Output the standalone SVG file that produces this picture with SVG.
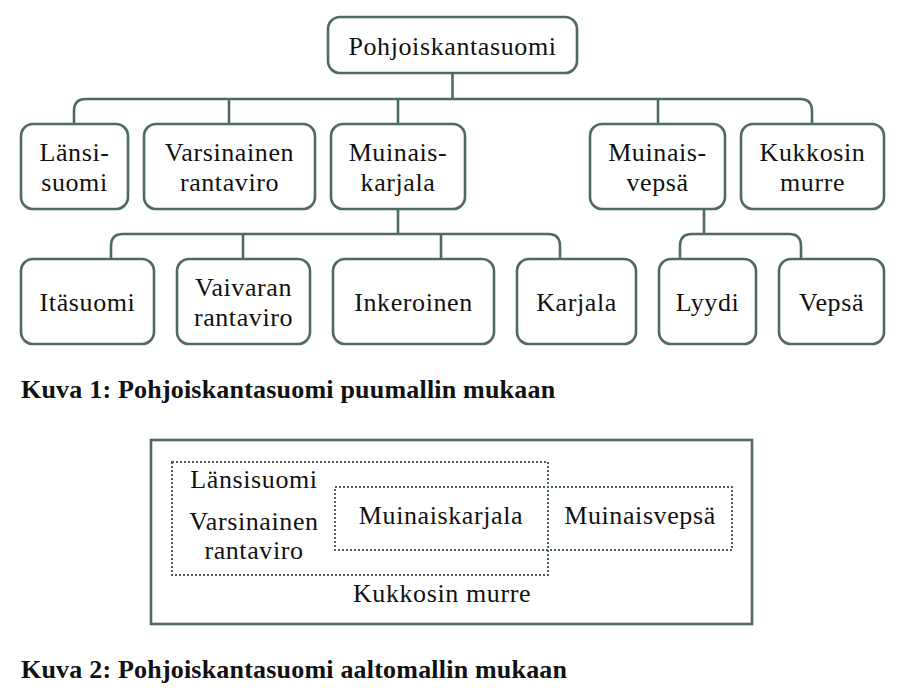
<svg xmlns="http://www.w3.org/2000/svg" width="901" height="694" viewBox="0 0 901 694">
<style>
.box{fill:#fff;stroke:#4f6a62;stroke-width:2.6}
.con{fill:none;stroke:#4f6a62;stroke-width:2.6}
.dot{fill:none;stroke:#4a625b;stroke-width:2;stroke-dasharray:2 2}
.t{font-family:"Liberation Serif","Times New Roman",serif;font-size:26px;fill:#111;text-anchor:middle;letter-spacing:0.6px}
.cap{font-family:"Liberation Serif","Times New Roman",serif;font-size:26px;font-weight:bold;fill:#111;letter-spacing:0.2px}
</style>
<rect width="901" height="694" fill="#fff"/>
<g id="connectors">
<path class="con" d="M452.5 73 V99"/>
<path class="con" d="M74 124 V111 Q74 99 86 99 H800 Q812 99 812 111 V124"/>
<path class="con" d="M229 99 V124 M398 99 V124 M658 99 V124"/>
<path class="con" d="M398 209 V234"/>
<path class="con" d="M111 259 V246 Q111 234 123 234 H548 Q560 234 560 246 V259"/>
<path class="con" d="M243 234 V259 M441 234 V259"/>
<path class="con" d="M704 209 V234"/>
<path class="con" d="M680 259 V246 Q680 234 692 234 H789 Q801 234 801 246 V259"/>
</g>
<g id="n-root"><rect class="box" x="328" y="17" width="249" height="56" rx="12"/><text class="t" x="452.5" y="55">Pohjoiskantasuomi</text></g>
<g id="n-lansisuomi"><rect class="box" x="21" y="124" width="107" height="85" rx="12"/><text class="t" x="74.5" y="161">Länsi-</text><text class="t" x="74.5" y="191">suomi</text></g>
<g id="n-varsinainen"><rect class="box" x="144" y="124" width="171" height="85" rx="12"/><text class="t" x="229.5" y="161">Varsinainen</text><text class="t" x="229.5" y="191">rantaviro</text></g>
<g id="n-muinaiskarjala"><rect class="box" x="331" y="124" width="134" height="85" rx="12"/><text class="t" x="398" y="161">Muinais-</text><text class="t" x="398" y="191">karjala</text></g>
<g id="n-muinaisvepsa"><rect class="box" x="590" y="124" width="135" height="85" rx="12"/><text class="t" x="657.5" y="161">Muinais-</text><text class="t" x="657.5" y="191">vepsä</text></g>
<g id="n-kukkosin"><rect class="box" x="741" y="124" width="143" height="85" rx="12"/><text class="t" x="812.5" y="161">Kukkosin</text><text class="t" x="812.5" y="191">murre</text></g>
<g id="n-itasuomi"><rect class="box" x="21" y="259" width="133" height="85" rx="12"/><text class="t" x="87.5" y="311">Itäsuomi</text></g>
<g id="n-vaivaran"><rect class="box" x="177" y="259" width="133" height="85" rx="12"/><text class="t" x="243.5" y="296">Vaivaran</text><text class="t" x="243.5" y="326">rantaviro</text></g>
<g id="n-inkeroinen"><rect class="box" x="333" y="259" width="161" height="85" rx="12"/><text class="t" x="413.5" y="311">Inkeroinen</text></g>
<g id="n-karjala"><rect class="box" x="517" y="259" width="119" height="85" rx="12"/><text class="t" x="576.5" y="311">Karjala</text></g>
<g id="n-lyydi"><rect class="box" x="659" y="259" width="97" height="85" rx="12"/><text class="t" x="707.5" y="311">Lyydi</text></g>
<g id="n-vepsa"><rect class="box" x="779" y="259" width="105" height="85" rx="12"/><text class="t" x="831.5" y="311">Vepsä</text></g>
<text class="cap" x="21" y="398">Kuva 1: Pohjoiskantasuomi puumallin mukaan</text>
<g id="wave">
<rect class="box" x="151" y="440" width="601" height="184"/>
<rect class="dot" x="172" y="462" width="376" height="113"/>
<rect class="dot" x="335" y="487" width="397" height="63"/>
<text class="t" x="254" y="488">Länsisuomi</text>
<text class="t" x="254" y="530">Varsinainen</text>
<text class="t" x="254" y="559">rantaviro</text>
<text class="t" x="441" y="524">Muinaiskarjala</text>
<text class="t" x="640" y="524">Muinaisvepsä</text>
<text class="t" x="442" y="602">Kukkosin murre</text>
</g>
<text class="cap" x="21" y="678">Kuva 2: Pohjoiskantasuomi aaltomallin mukaan</text>
</svg>
